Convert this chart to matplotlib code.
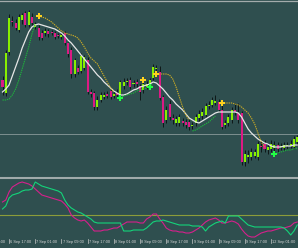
import numpy as np
import matplotlib
matplotlib.use('Agg')
import matplotlib.pyplot as plt
from matplotlib.lines import Line2D
import matplotlib.transforms as mtransforms

# hourly candles (price in chart points)
opens = [420, 407, 448, 479, 477, 470, 480, 487, 475, 483,
         473, 472, 467, 467, 469, 468, 467, 465, 463, 467,
         457, 450, 426, 432, 429, 432, 440, 408, 407, 393,
         400, 403, 406, 409, 404, 407, 405, 414, 418, 420,
         416, 418, 414, 410, 413, 413, 422, 431, 428, 403,
         380, 396, 382, 377, 377, 379, 378, 378, 374, 377,
         382, 384, 385, 394, 395, 397, 398, 390, 375, 377,
         380, 390, 387, 387, 338, 343, 343, 344, 343, 354,
         356, 350, 351, 352, 355, 353, 352, 354, 354, 353,
         358]
closes = [413, 447, 482, 478, 472, 483, 485, 475, 488, 477,
          476, 463, 462, 469, 466, 467, 463, 464, 465, 457,
          446, 426, 440, 428, 444, 443, 408, 406, 393, 400,
          405, 405, 404, 403, 406, 405, 418, 418, 419, 413,
          417, 416, 408, 416, 416, 420, 433, 432, 402, 377,
          390, 383, 380, 381, 383, 377, 375, 373, 375, 383,
          386, 388, 394, 395, 400, 399, 390, 373, 377, 383,
          390, 388, 380, 338, 346, 345, 348, 348, 356, 353,
          351, 353, 356, 355, 351, 354, 355, 355, 356, 361,
          363]
highs = [424, 450, 486, 484, 481, 486, 487, 489, 490, 487,
         478, 475, 470, 472, 471, 470, 469, 467, 467, 469,
         458, 453, 442, 435, 447, 445, 443, 411, 409, 404,
         408, 408, 409, 412, 410, 411, 420, 422, 422, 423,
         420, 421, 416, 418, 419, 422, 436, 435, 434, 405,
         394, 400, 386, 384, 386, 382, 381, 381, 378, 386,
         390, 392, 397, 399, 403, 405, 401, 397, 380, 386,
         393, 397, 397, 389, 350, 350, 352, 351, 359, 359,
         360, 357, 360, 359, 358, 357, 358, 358, 360, 364,
         365]
lows = [405, 404, 445, 474, 470, 468, 476, 473, 473, 475,
        471, 460, 460, 464, 463, 465, 461, 462, 461, 455,
        443, 422, 423, 426, 427, 430, 406, 403, 390, 390,
        398, 401, 402, 401, 402, 402, 403, 411, 415, 411,
        413, 413, 400, 407, 411, 411, 420, 428, 400, 373,
        377, 380, 376, 374, 374, 374, 372, 370, 371, 374,
        379, 381, 383, 391, 393, 395, 388, 371, 372, 374,
        377, 385, 377, 335, 334, 337, 340, 342, 340, 348,
        348, 346, 348, 346, 348, 350, 350, 351, 352, 351,
        355]

# smooth moving average (white)
ma_line = [408, 411, 415, 424, 433, 442, 452, 460, 468, 473,
           475, 476, 475, 474, 473, 472, 471, 469, 467, 464,
           460, 457, 453, 449, 445, 441, 437, 433, 429, 425,
           422, 418, 415, 412, 409, 407, 405, 405, 406, 408,
           410, 411, 413, 414, 415, 416, 418, 417, 414, 411,
           407, 403, 400, 396, 393, 390, 386, 382, 380, 378,
           377, 379, 381, 383, 385, 387, 388, 388, 388, 388,
           388, 388, 387, 383, 377, 371, 367, 364, 361, 359,
           357, 356, 354, 353, 353, 353, 354, 354, 354, 355,
           355]

# trailing stop pieces: (first bar, values)
sell_stop = [(11, [484, 483, 482, 480, 478, 475, 472, 469, 467, 466, 465, 464,
                   462, 458, 453, 447, 442, 439, 436, 430, 424, 418, 412, 408]),
             (47, [426, 426, 426, 426, 425, 421, 413, 403, 393, 385, 380]),
             (67, [397, 397, 397, 397, 396, 395, 393, 390, 387, 382, 376, 367, 358, 353])]
buy_stop = [(0, [400, 400, 401, 405, 411, 420, 431, 442, 453, 466, 476]),
            (36, [402, 404, 405, 406, 407, 409, 410, 411, 412, 414, 416]),
            (58, [369, 370, 372, 374, 376, 378, 381, 384]),
            (83, [346, 347, 348, 349, 350, 350, 351, 352])]

sell_bars = [11, 43, 47, 67]
sell_levels = [484, 420, 426, 397]
buy_bars = [36, 45, 83]
buy_levels = [402, 413, 346]

bid_price = 366

# lower oscillator
osc_pink = [37, 39, 47, 52, 54, 56, 57, 56, 55, 53,
            50, 47, 44, 43, 42, 41, 40, 39, 38, 35,
            31, 24, 21, 19, 18, 19, 16, 12, 8, 8,
            8, 9, 9, 10, 11, 11, 13, 15, 17, 17,
            17, 17, 16, 16, 20, 22, 25, 25, 20, 16,
            11, 9, 8, 8, 7, 7, 6, 6, 7, 9,
            11, 14, 17, 19, 20, 21, 19, 16, 16, 17,
            18, 17, 15, 10, 6, 3, 2, 2, 4, 6,
            7, 8, 8, 9, 10, 11, 11, 12, 13, 16,
            17]
osc_green = [30, 33, 41, 44, 45, 46, 48, 49, 49, 50,
             57, 55, 53, 52, 51, 50, 49, 48, 46, 39,
             34, 31, 29, 27, 26, 24, 22, 20, 17, 16,
             16, 16, 16, 16, 16, 16, 16, 8, 8, 8,
             9, 9, 9, 9, 11, 14, 17, 18, 18, 19,
             18, 17, 16, 15, 14, 14, 14, 14, 13, 13,
             13, 12, 8, 12, 14, 16, 17, 18, 16, 23,
             23, 23, 23, 20, 17, 14, 13, 12, 12, 12,
             12, 12, 12, 12, 12, 12, 11, 8, 4, 8,
             14]
osc_level = 24

tick_bars = [-6, 2, 10, 18, 26, 34, 42, 50, 58, 66, 74, 82]
tick_labels = ['6 Sep 09:00', '6 Sep 17:00', '7 Sep 01:00', '7 Sep 09:00', '7 Sep 17:00',
               '8 Sep 01:00', '8 Sep 09:00', '8 Sep 17:00', '9 Sep 01:00', '9 Sep 09:00',
               '9 Sep 17:00', '12 Sep 01:00']

bg = '#2f4f4f'
up_col = '#88f000'
down_col = '#dc1a84'

fig = plt.figure(figsize=(2.98, 2.48), dpi=100)
fig.patch.set_facecolor(bg)
H = 248.0
ax = fig.add_axes([0, (H - 176) / H, 1, 176 / H])
ax2 = fig.add_axes([0, (H - 239) / H, 1, 60 / H])
xlim = (-2.5 / 3.275, (298 - 2.5) / 3.275)
for a in (ax, ax2):
    a.set_facecolor(bg)
    a.set_xlim(*xlim)
    a.set_xticks([])
    a.set_yticks([])
    for s in a.spines.values():
        s.set_visible(False)

x = np.arange(len(opens))
o = np.array(opens)
c = np.array(closes)

ax.axhline(bid_price, color='#7d9090', lw=0.7, zorder=1)
ax.vlines(x, lows, highs, color='#0e1818', lw=0.7, zorder=2)
body_bot = np.minimum(o, c)
body_h = np.maximum(np.abs(c - o), 0.8)
cols = [up_col if c[i] > o[i] else (down_col if c[i] < o[i] else '#0e1818') for i in x]
ax.bar(x, body_h, bottom=body_bot, width=0.62, color=cols, linewidth=0, zorder=3)

ax.plot(x, ma_line, color='#e6e6e6', lw=0.9, zorder=4)
for start, vals in sell_stop:
    ax.plot(np.arange(start, start + len(vals)), vals, color='#c9aa26', lw=0.8,
            ls=(0, (1.2, 0.8)), zorder=4)
for start, vals in buy_stop:
    ax.plot(np.arange(start, start + len(vals)), vals, color='#1fb43c', lw=0.8,
            ls=(0, (1.2, 0.8)), zorder=4)
ax.plot(sell_bars, sell_levels, ls='none', marker='P', ms=4.2, color='#ffd21e',
        markeredgewidth=0, zorder=5)
ax.plot(buy_bars, buy_levels, ls='none', marker='P', ms=4.2, color='#22ff44',
        markeredgewidth=0, zorder=5)
ax.set_ylim(324, 500)

# oscillator panel
ax2.axhline(osc_level, color='#8c9c3a', lw=0.8, zorder=1)
ax2.plot(x, osc_pink, color='#d6208c', lw=0.8, zorder=2)
ax2.plot(x, osc_green, color='#14d47a', lw=0.8, zorder=3)
ax2.set_ylim(0, 60)

# time axis, MT4 style: mark then label to the right
trans = mtransforms.blended_transform_factory(ax2.transData, ax2.transAxes)
for b, lab in zip(tick_bars, tick_labels):
    ax2.plot([b, b], [0, -0.065], transform=trans, color='#c8c8c8', lw=0.5, clip_on=False)
    ax2.text(b + 0.35, -0.01, lab, transform=trans, ha='left', va='top', fontsize=2.8,
             family='Liberation Sans', color='#d8d8d8', clip_on=False)

# window frame lines
fig.add_artist(Line2D([0, 1], [(H - 1) / H] * 2, color='#a3acac', lw=0.9))
fig.add_artist(Line2D([0, 1], [(H - 177.7) / H] * 2, color='#a0aaaa', lw=1.5))

fig.savefig('out.png', dpi=100, facecolor=bg)
